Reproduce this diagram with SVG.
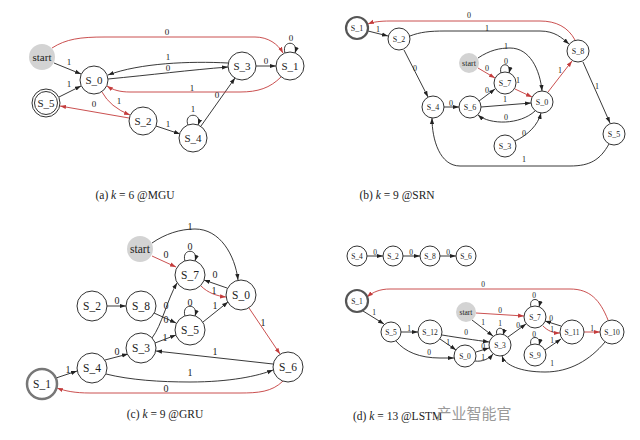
<svg xmlns="http://www.w3.org/2000/svg" width="640" height="440" viewBox="0 0 640 440" font-family="'Liberation Serif', 'DejaVu Serif', serif">
<style>
text{font-family:'Liberation Serif','DejaVu Serif',serif;fill:#222;text-anchor:middle;dominant-baseline:central}
.n{fill:#fff;stroke:#333;stroke-width:1}
.th{fill:#fff;stroke:#555;stroke-width:2.2}
.st{fill:#d3d3d3;stroke:none}
.e{fill:none;stroke:#222;stroke-width:0.9;marker-end:url(#ab)}
.r{fill:none;stroke:#c43c3c;stroke-width:0.9;marker-end:url(#ar)}
.fa{font-size:11px}.fb{font-size:8px}.fc{font-size:11.5px}.fd{font-size:7.5px}
.la{font-size:9px}.lb{font-size:8px}.lc{font-size:10px}.ld{font-size:7.5px}
.cap{font-size:11.5px}
text.wm{font-family:'Noto Sans CJK SC',sans-serif;font-size:15px;fill:#999}
</style>
<defs>
<marker id="ab" viewBox="0 0 10 10" refX="10" refY="5" markerWidth="6" markerHeight="6" markerUnits="userSpaceOnUse" orient="auto"><path d="M0,1.5 L10,5 L0,8.5 z" fill="#222"/></marker>
<marker id="ar" viewBox="0 0 10 10" refX="10" refY="5" markerWidth="6" markerHeight="6" markerUnits="userSpaceOnUse" orient="auto"><path d="M0,1.5 L10,5 L0,8.5 z" fill="#c43c3c"/></marker>
</defs>
<rect width="640" height="440" fill="#fff"/>

<!-- ===== Panel (a) ===== -->
<g id="a_edges">
<path class="r" d="M52,48 C66,39 80,37 105,37 L255,37 C268,37 278,44 283,53"/>
<path class="e" d="M54,63 L81,74"/>
<path class="e" d="M59,97 L81,86"/>
<path class="r" d="M129,118 L60,106"/>
<path class="r" d="M102,92 Q110,107 130,115"/>
<path class="e" d="M156,126 L180,134"/>
<path class="e" d="M188,125 C183,112 203,112 198,125"/>
<path class="e" d="M201,126 L235,78"/>
<path class="e" d="M228,63 C190,61 140,63 108,75"/>
<path class="e" d="M108,79 C150,75 190,70 228,67"/>
<path class="e" d="M256,66 L276,66"/>
<path class="e" d="M285,53 C281,40 299,40 295,53"/>
<path class="r" d="M281,77 C270,88 258,92 240,92 L130,92 C120,92 113,90 107,86"/>
<text class="la" x="167" y="32">0</text>
<text class="la" x="69" y="62">1</text>
<text class="la" x="69" y="84">1</text>
<text class="la" x="94" y="104">0</text>
<text class="la" x="119" y="101">1</text>
<text class="la" x="168" y="124">1</text>
<text class="la" x="193" y="109">1</text>
<text class="la" x="217" y="95">0</text>
<text class="la" x="168" y="57">1</text>
<text class="la" x="168" y="68">0</text>
<text class="la" x="266" y="61">0</text>
<text class="la" x="291" y="38">0</text>
<text class="la" x="192" y="88">1</text>
</g>
<g id="a_start"><circle class="st" cx="42" cy="57" r="13"/><text class="fa" x="42" y="57">start</text></g>
<g id="a_S0"><circle class="n" cx="94" cy="80" r="14"/><text class="fa" x="94" y="80">S_0</text></g>
<g id="a_S5"><circle class="n" cx="46" cy="103" r="14"/><circle class="n" cx="46" cy="103" r="11.5"/><text class="fa" x="46" y="103">S_5</text></g>
<g id="a_S2"><circle class="n" cx="143" cy="121" r="14"/><text class="fa" x="143" y="121">S_2</text></g>
<g id="a_S4"><circle class="n" cx="193" cy="138" r="14"/><text class="fa" x="193" y="138">S_4</text></g>
<g id="a_S3"><circle class="n" cx="242" cy="66" r="14"/><text class="fa" x="242" y="66">S_3</text></g>
<g id="a_S1"><circle class="n" cx="290" cy="66" r="14"/><text class="fa" x="290" y="66">S_1</text></g>
<text class="cap" x="135" y="195">(a) <tspan font-style="italic">k</tspan> = 6 @MGU</text>

<!-- ===== Panel (b) ===== -->
<g id="b_edges">
<path class="r" d="M575,40 C568,27 556,21 540,21 L390,21 C380,21 373,22 368,24"/>
<path class="e" d="M368,31 L388,36"/>
<path class="e" d="M410,36 C420,32 430,31 445,31 L540,31 C555,31 562,38 569,44"/>
<path class="e" d="M404,50 L428,97"/>
<path class="e" d="M478,58 C490,50 500,48 510,48 C530,48 540,70 542,91"/>
<path class="r" d="M478,68 L495,78"/>
<path class="e" d="M501,73 C498,62 512,62 509,73"/>
<path class="r" d="M515,89 L532,97"/>
<path class="r" d="M548,92 L572,61"/>
<path class="e" d="M583,62 L610,123"/>
<path class="e" d="M444,107 L459,107"/>
<path class="e" d="M479,101 L495,89"/>
<path class="e" d="M481,107 L531,103"/>
<path class="e" d="M535,111 C520,125 490,125 478,115"/>
<path class="e" d="M515,141 C528,135 538,125 541,113"/>
<path class="e" d="M609,144 C600,160 590,166 570,166 L460,166 C440,166 432,140 432,118"/>
<text class="lb" x="469" y="15">0</text>
<text class="lb" x="378" y="29">1</text>
<text class="lb" x="487" y="28">1</text>
<text class="lb" x="415" y="68">0</text>
<text class="lb" x="506" y="46">1</text>
<text class="lb" x="487" y="68">0</text>
<text class="lb" x="506" y="61">0</text>
<text class="lb" x="518" y="80">1</text>
<text class="lb" x="560" y="70">1</text>
<text class="lb" x="597" y="86">1</text>
<text class="lb" x="451" y="103">0</text>
<text class="lb" x="487" y="90">0</text>
<text class="lb" x="505" y="99">1</text>
<text class="lb" x="506" y="117">0</text>
<text class="lb" x="524" y="133">0</text>
<text class="lb" x="524" y="159">1</text>
</g>
<g id="b_S1"><circle class="th" cx="357" cy="28" r="11"/><text class="fb" x="357" y="28">S_1</text></g>
<g id="b_S2"><circle class="n" cx="399" cy="39" r="11"/><text class="fb" x="399" y="39">S_2</text></g>
<g id="b_S8"><circle class="n" cx="578" cy="51" r="11"/><text class="fb" x="578" y="51">S_8</text></g>
<g id="b_start"><circle class="st" cx="469" cy="63" r="10"/><text class="fb" x="469" y="63">start</text></g>
<g id="b_S7"><circle class="n" cx="505" cy="83" r="11"/><text class="fb" x="505" y="83">S_7</text></g>
<g id="b_S0"><circle class="n" cx="542" cy="102" r="11"/><text class="fb" x="542" y="102">S_0</text></g>
<g id="b_S4"><circle class="n" cx="433" cy="107" r="11"/><text class="fb" x="433" y="107">S_4</text></g>
<g id="b_S6"><circle class="n" cx="470" cy="107" r="11"/><text class="fb" x="470" y="107">S_6</text></g>
<g id="b_S3"><circle class="n" cx="505" cy="146" r="11"/><text class="fb" x="505" y="146">S_3</text></g>
<g id="b_S5"><circle class="n" cx="614" cy="134" r="11"/><text class="fb" x="614" y="134">S_5</text></g>
<text class="cap" x="397" y="195">(b) <tspan font-style="italic">k</tspan> = 9 @SRN</text>

<!-- ===== Panel (c) ===== -->
<g id="c_edges">
<path class="e" d="M152,243 C165,234 180,229 195,229 C220,229 235,255 238,280"/>
<path class="r" d="M152,256 L176,267"/>
<path class="e" d="M185,261 C181,248 199,248 195,261"/>
<path class="e" d="M227,288 L204,280"/>
<path class="r" d="M201,286 C208,293 217,296 226,297"/>
<path class="e" d="M203,322 L228,302"/>
<path class="r" d="M249,308 L280,354"/>
<path class="e" d="M107,306 L126,306"/>
<path class="e" d="M154,313 L176,323"/>
<path class="e" d="M185,316 C181,303 199,303 195,316"/>
<path class="e" d="M152,338 C162,325 167,300 177,283"/>
<path class="e" d="M155,343 L176,335"/>
<path class="e" d="M273,364 L156,351"/>
<path class="e" d="M105,360 L128,354"/>
<path class="e" d="M56,378 L77,371"/>
<path class="e" d="M106,374 C130,380 160,382 190,382 C230,382 258,376 273,370"/>
<path class="r" d="M283,381 C272,392 258,393 240,393 L90,393 C75,393 65,391 57,388"/>
<text class="lc" x="190" y="226">1</text>
<text class="lc" x="166" y="254">0</text>
<text class="lc" x="190" y="246">0</text>
<text class="lc" x="215" y="274">0</text>
<text class="lc" x="214" y="290">1</text>
<text class="lc" x="215" y="305">1</text>
<text class="lc" x="263" y="322">1</text>
<text class="lc" x="117" y="300">0</text>
<text class="lc" x="166" y="305">0</text>
<text class="lc" x="190" y="302">0</text>
<text class="lc" x="166" y="319">0</text>
<text class="lc" x="165" y="337">1</text>
<text class="lc" x="215" y="351">1</text>
<text class="lc" x="117" y="351">0</text>
<text class="lc" x="68" y="369">1</text>
<text class="lc" x="190" y="372">1</text>
<text class="lc" x="166" y="388">0</text>
</g>
<g id="c_start"><circle class="st" cx="140" cy="249" r="13"/><text class="fc" x="140" y="249">start</text></g>
<g id="c_S7"><circle class="n" cx="190" cy="275" r="15"/><text class="fc" x="190" y="275">S_7</text></g>
<g id="c_S0"><circle class="n" cx="241" cy="295" r="15"/><text class="fc" x="241" y="295">S_0</text></g>
<g id="c_S2"><circle class="n" cx="92" cy="306" r="15"/><text class="fc" x="92" y="306">S_2</text></g>
<g id="c_S8"><circle class="n" cx="141" cy="306" r="15"/><text class="fc" x="141" y="306">S_8</text></g>
<g id="c_S5"><circle class="n" cx="190" cy="330" r="15"/><text class="fc" x="190" y="330">S_5</text></g>
<g id="c_S3"><circle class="n" cx="141" cy="348" r="15"/><text class="fc" x="141" y="348">S_3</text></g>
<g id="c_S4"><circle class="n" cx="92" cy="368" r="15"/><text class="fc" x="92" y="368">S_4</text></g>
<g id="c_S1"><circle class="th" cx="42" cy="384" r="15" style="stroke:#777;stroke-width:2.5"/><text class="fc" x="42" y="384">S_1</text></g>
<g id="c_S6"><circle class="n" cx="288" cy="367" r="15"/><text class="fc" x="288" y="367">S_6</text></g>
<text class="cap" x="165" y="414">(c) <tspan font-style="italic">k</tspan> = 9 @GRU</text>

<!-- ===== Panel (d) ===== -->
<g id="d_edges">
<path class="e" d="M367,256 L383,256"/>
<path class="e" d="M403,256 L420,256"/>
<path class="e" d="M440,256 L456,256"/>
<path class="r" d="M608,320 C600,300 590,289 570,289 L390,289 C380,289 373,292 367,297"/>
<path class="e" d="M363,311 L384,324"/>
<path class="r" d="M476,313 L524,316"/>
<path class="e" d="M472,320 L493,336"/>
<path class="e" d="M497,335 C494,326 506,326 503,335"/>
<path class="e" d="M531,307 C528,297 542,297 539,307"/>
<path class="e" d="M508,337 L526,324"/>
<path class="e" d="M561,326 L545,321"/>
<path class="r" d="M543,326 C548,331 553,333 560,333"/>
<path class="r" d="M584,332 L600,332"/>
<path class="e" d="M531,345 C528,335 542,335 539,345"/>
<path class="e" d="M545,350 L561,339"/>
<path class="e" d="M401,332 L418,332"/>
<path class="e" d="M442,335 C460,338 475,340 489,342"/>
<path class="e" d="M440,339 L456,350"/>
<path class="e" d="M396,341 C405,352 420,358 440,358 L454,358"/>
<path class="e" d="M476,352 L489,348"/>
<path class="e" d="M475,361 C482,362 489,359 493,354"/>
<path class="e" d="M605,342 C590,360 570,372 545,372 C520,372 505,365 502,356"/>
<text class="ld" x="375" y="252">0</text>
<text class="ld" x="411" y="252">0</text>
<text class="ld" x="448" y="252">0</text>
<text class="ld" x="483" y="284">0</text>
<text class="ld" x="374" y="312">1</text>
<text class="ld" x="500" y="310">0</text>
<text class="ld" x="483" y="322">1</text>
<text class="ld" x="500" y="323">1</text>
<text class="ld" x="534" y="295">0</text>
<text class="ld" x="518" y="325">0</text>
<text class="ld" x="551" y="318">0</text>
<text class="ld" x="552" y="329">1</text>
<text class="ld" x="592" y="328">1</text>
<text class="ld" x="534" y="334">0</text>
<text class="ld" x="552" y="340">1</text>
<text class="ld" x="409" y="328">1</text>
<text class="ld" x="466" y="332">0</text>
<text class="ld" x="448" y="342">1</text>
<text class="ld" x="429" y="352">0</text>
<text class="ld" x="483" y="346">0</text>
<text class="ld" x="483" y="357">1</text>
<text class="ld" x="552" y="363">1</text>
</g>
<g id="d_S4"><circle class="n" cx="357" cy="256" r="10"/><text class="fd" x="357" y="256">S_4</text></g>
<g id="d_S2"><circle class="n" cx="393" cy="256" r="10"/><text class="fd" x="393" y="256">S_2</text></g>
<g id="d_S8"><circle class="n" cx="430" cy="256" r="10"/><text class="fd" x="430" y="256">S_8</text></g>
<g id="d_S6"><circle class="n" cx="466" cy="256" r="10"/><text class="fd" x="466" y="256">S_6</text></g>
<g id="d_S1"><circle class="th" cx="357" cy="301" r="11"/><text class="fd" x="357" y="301">S_1</text></g>
<g id="d_start"><circle class="st" cx="466" cy="312" r="10"/><text class="fd" x="466" y="312">start</text></g>
<g id="d_S7"><circle class="n" cx="535" cy="317" r="11"/><text class="fd" x="535" y="317">S_7</text></g>
<g id="d_S5"><circle class="n" cx="391" cy="332" r="10"/><text class="fd" x="391" y="332">S_5</text></g>
<g id="d_S12"><circle class="n" cx="430" cy="332" r="12"/><text class="fd" x="430" y="332">S_12</text></g>
<g id="d_S11"><circle class="n" cx="572" cy="332" r="12"/><text class="fd" x="572" y="332">S_11</text></g>
<g id="d_S10"><circle class="n" cx="612" cy="332" r="12"/><text class="fd" x="612" y="332">S_10</text></g>
<g id="d_S3"><circle class="n" cx="500" cy="345" r="11"/><text class="fd" x="500" y="345">S_3</text></g>
<g id="d_S0"><circle class="n" cx="465" cy="356" r="11"/><text class="fd" x="465" y="356">S_0</text></g>
<g id="d_S9"><circle class="n" cx="535" cy="355" r="11"/><text class="fd" x="535" y="355">S_9</text></g>
<text class="cap" x="353" y="416" style="text-anchor:start">(d) <tspan font-style="italic">k</tspan> = 13 @LSTM</text>
<text class="wm" x="474" y="412">产业智能官</text>
</svg>
